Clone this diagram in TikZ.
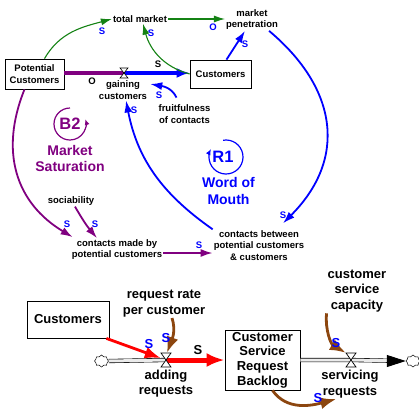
\documentclass[tikz,border=0pt]{standalone}
\usepackage{fontspec}
\setmainfont{Liberation Sans}
\usetikzlibrary{arrows.meta,shapes.symbols}
\definecolor{sdgreen}{RGB}{20,130,20}
\definecolor{sdblue}{RGB}{0,0,255}
\definecolor{sdpurple}{RGB}{128,0,128}
\definecolor{sdbrown}{RGB}{140,70,15}
\definecolor{sdred}{RGB}{255,0,0}
\definecolor{pipefill}{RGB}{235,235,235}

\begin{document}
\begin{tikzpicture}[x=1pt,y=1pt,
  txtsmall/.style={font=\fontsize{9.5}{11.5}\selectfont\bfseries, align=center, inner sep=1pt},
  txtlarge/.style={font=\fontsize{13}{15.5}\selectfont\bfseries, align=center, inner sep=1pt},
  txtloop/.style={font=\fontsize{14}{16.5}\selectfont\bfseries, align=center, inner sep=1pt},
  txtid/.style={font=\fontsize{16.5}{18}\selectfont\bfseries, inner sep=0pt},
  stockbox/.style={draw, line width=0.8pt, align=center, inner sep=2pt},
  pol/.style={txtsmall, text=sdblue},
  bigpol/.style={txtlarge, text=sdblue},
  valvenode/.style={minimum width=10pt, minimum height=14pt, inner sep=0pt},
  cloudnode/.style={cloud, cloud puffs=8, draw, line width=0.5pt, fill=white,
    minimum width=14pt, minimum height=12pt, inner sep=0pt},
  pipe/.style={draw=black, line width=0.6pt, double=pipefill, double distance=3pt},
  glink/.style={sdgreen, line width=1.1pt, -{Latex[length=11pt,width=7pt]}},
  blink/.style={sdblue, line width=1.8pt, -{Latex[length=12pt,width=8pt]}},
  plink/.style={sdpurple, line width=1.8pt, -{Latex[length=12pt,width=8pt]}},
  brlink/.style={sdbrown, line width=2.8pt, -{Latex[length=16pt,width=12pt]}},
  rlink/.style={sdred, line width=2.8pt, -{Latex[length=16pt,width=12pt]}},
  bigvalve/.pic={\draw[line width=0.7pt, fill=white] (-5,7)--(5,7)--(-5,-7)--(5,-7)--cycle;},
  smallvalve/.pic={\draw[line width=0.6pt, fill=white] (-4,5)--(4,5)--(-4,-5)--(4,-5)--cycle;}
]
\useasboundingbox (0,0) rectangle (419,-413);

% ================= word-of-mouth adoption model =================
\node[txtsmall, stockbox, minimum width=59pt, minimum height=30pt] (pc) at (34.5,-74) {Potential\\Customers};
\node[txtsmall] (tm) at (140,-19) {total market};
\node[txtsmall] (mp) at (252,-19.5) {market\\penetration};
\node[txtsmall, stockbox, minimum width=61pt, minimum height=28pt] (cu) at (220.5,-74) {Customers};
\node[valvenode, minimum width=8pt, minimum height=10pt] (v1) at (124,-73) {};
\node[txtsmall] (gc) at (123,-90) {gaining\\customers};
\node[txtsmall] (fc) at (184.5,-114) {fruitfulness\\of contacts};
\node[txtsmall] (so) at (71,-201) {sociability};
\node[txtsmall] (cm) at (117,-249.5) {contacts made by\\potential customers};
\node[txtsmall] (cb) at (259,-245.5) {contacts between\\potential customers\\\& customers};

% flow between the two stocks
\draw[line width=4pt, sdpurple] (pc.east |- v1.center) -- (v1.center);
\draw[line width=4pt, sdblue, -{Latex[length=13pt,width=10pt]}] (v1.center) -- (cu.west |- v1.center);
\pic at (v1) {smallvalve};
\node[txtsmall] (o1) at (92,-81) {O};
\node[txtsmall] (s1) at (158,-64) {S};

% causal links
\draw[glink] ([xshift=10]pc.north) to[out=60,in=195] (tm.west);
\draw[glink] (tm.east) -- (tm.east -| mp.west);
\draw[glink] (cu.west) to[out=165,in=-75] ([xshift=3]tm.south);
\draw[blink] ([xshift=6]cu.north) -- ([xshift=-7]mp.south);
\draw[blink] ([xshift=-10]mp.south east) to[out=-40,in=45,looseness=1.2] ([xshift=24,yshift=6]cb.north);
\draw[blink] (cb.north west) to[out=145,in=-79] ([xshift=3]gc.south);
\draw[blink] ([xshift=-8,yshift=6]fc.north) to[out=115,in=-10] ([xshift=2,yshift=6]gc.east);
\draw[plink] ([xshift=-10]pc.south) to[out=-112,in=149,looseness=1.1] ([xshift=2,yshift=1]cm.north west);
\draw[plink] ([xshift=4]so.south) to[out=-60,in=130] ([xshift=-20]cm.north);
\draw[plink] ([yshift=-3.5]cm.east) -- ([yshift=-3.5]cm.east -| cb.west);

\node[pol] (s2) at (102,-31) {S};
\node[pol] (s3) at (151,-33) {S};
\node[pol] (o2) at (213,-27) {O};
\node[pol] (s4) at (245,-44) {S};
\node[pol] (s5) at (159,-95) {S};
\node[pol] (s6) at (134,-110) {S};
\node[pol] (s7) at (283,-215) {S};
\node[pol] (s8) at (67,-224) {S};
\node[pol] (s9) at (95,-224) {S};
\node[pol] (s10) at (199,-245) {S};

% loop markers
\coordinate (b2c) at (70,-124);
\draw[sdpurple, line width=1.2pt, -{Latex[length=6pt,width=5pt]}] ([shift={(90:16)}]b2c) arc[start angle=90, end angle=378, radius=16];
\node[txtid, text=sdpurple] (b2) at (b2c) {B2};
\node[txtloop, text=sdpurple] (b2n) at (70,-158.5) {Market\\Saturation};

\coordinate (r1c) at (226,-157);
\draw[sdblue, line width=1.2pt, -{Latex[length=6pt,width=5pt]}] ([shift={(100:17)}]r1c) arc[start angle=100, end angle=-208, radius=17];
\node[txtid, text=sdblue] (r1) at (223,-157) {R1};
\node[txtloop, text=sdblue] (r1n) at (228.5,-191) {Word of\\Mouth};

% ================= service backlog model =================
\node[txtlarge, stockbox, minimum width=82pt, minimum height=37pt] (cub) at (68,-319.5) {Customers};
\node[txtlarge] (rr) at (164,-303.5) {request rate\\per customer};
\node[cloudnode] (cl1) at (101.5,-361) {};
\node[valvenode] (v2) at (166,-360) {};
\node[txtlarge] (ar) at (166,-383.5) {adding\\requests};
\node[txtlarge, stockbox, minimum width=75pt, minimum height=60pt, font=\fontsize{13}{14.7}\selectfont\bfseries] (bl) at (262.5,-360) {Customer\\Service\\Request\\Backlog};
\node[valvenode] (v3) at (351,-360) {};
\node[txtlarge] (cap) at (357,-291) {customer\\service\\capacity};
\node[txtlarge] (sr) at (350,-384) {servicing\\requests};
\node[cloudnode] (cl2) at (413,-361) {};

% pipes and flows
\draw[pipe] (cl1.east) -- (v2.center);
\draw[line width=5pt, sdred, -{Latex[length=18pt,width=14pt]}] (v2.center) -- (bl.west);
\draw[pipe, shorten >=17pt] (bl.east) -- (v3.center) -- (cl2.west);
\draw[line width=1pt, -{Triangle[length=19pt,width=12pt]}] ([xshift=-19]cl2.west) -- (cl2.west);
\pic at (v2) {bigvalve};
\pic at (v3) {bigvalve};

% causal links
\draw[rlink] ([xshift=-3]cub.south east) -- (v2);
\draw[brlink] ([xshift=8]rr.south) to[out=-72,in=70] ([xshift=1]v2.north);
\draw[brlink] (cap.south west) to[out=-95,in=150] (v3.north west);
\draw[brlink] ([xshift=10]bl.south) to[out=-55,in=195] ([xshift=16]sr.south west);

\node[bigpol] (s11) at (149,-344) {S};
\node[bigpol] (s12) at (166,-338) {S};
\node[txtlarge] (s13) at (198,-350) {S};
\node[bigpol] (s14) at (336,-343) {S};
\node[bigpol] (s15) at (318,-398) {S};
\end{tikzpicture}
\end{document}
